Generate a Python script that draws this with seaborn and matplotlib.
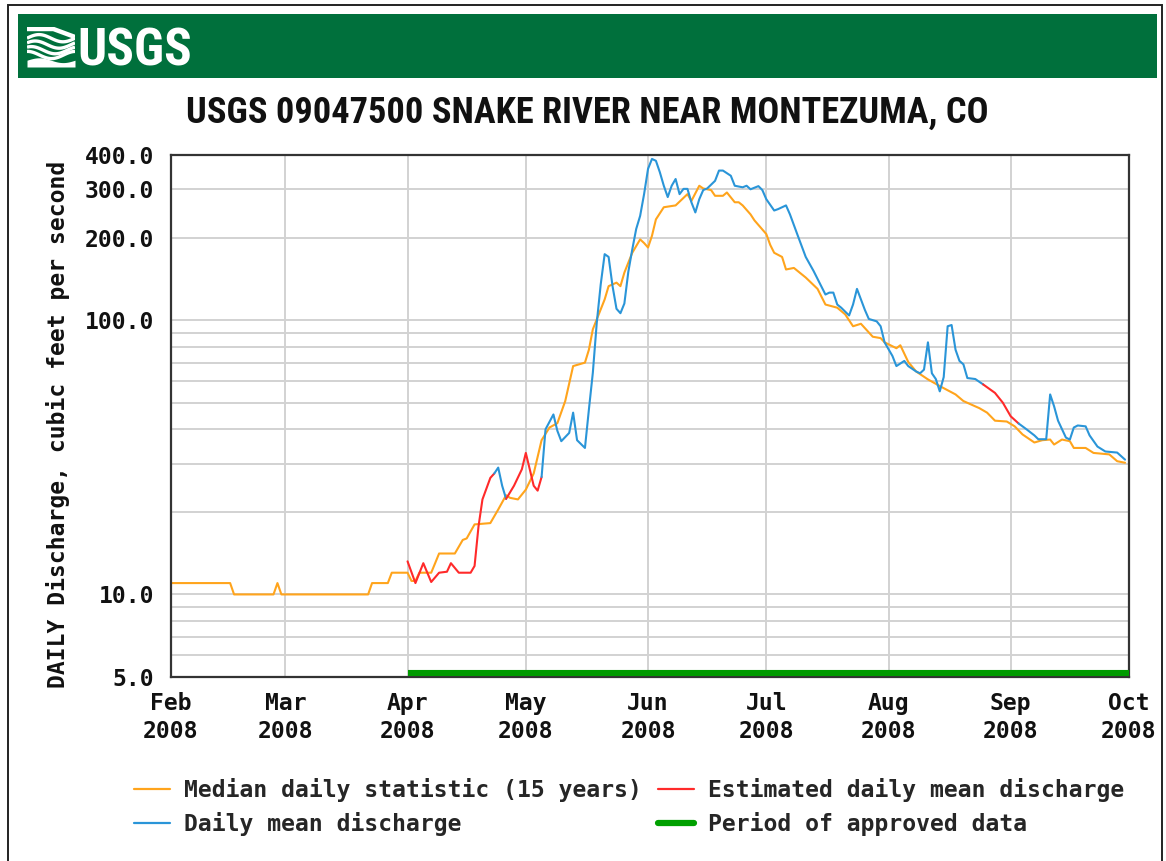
import numpy as np
import pandas as pd
import matplotlib
matplotlib.use("Agg")
import matplotlib.pyplot as plt
from matplotlib.lines import Line2D
from matplotlib.patches import Rectangle
from matplotlib.ticker import FixedLocator, NullFormatter
import seaborn as sns

# ---------------- data ----------------
TITLE = "USGS 09047500 SNAKE RIVER NEAR MONTEZUMA, CO"
Y_LABEL = "DAILY Discharge, cubic feet per second"

median_dates = [
    "02-01", "02-16", "02-17", "02-27", "02-28", "02-29", "03-22", "03-23", "03-27", "03-28",
    "04-01", "04-02", "04-03", "04-04", "04-07", "04-08", "04-09", "04-13", "04-15", "04-16",
    "04-18", "04-22", "04-24", "04-26", "04-27", "04-29", "05-01", "05-03", "05-05", "05-07",
    "05-09", "05-11", "05-13", "05-16", "05-17", "05-18", "05-21", "05-22", "05-24", "05-25",
    "05-26", "05-27", "05-28", "05-30", "05-31", "06-01", "06-02", "06-03", "06-05", "06-08",
    "06-11", "06-12", "06-14", "06-15", "06-17", "06-18", "06-20", "06-21", "06-23", "06-24",
    "06-25", "06-27", "06-28", "07-01", "07-02", "07-03", "07-05", "07-06", "07-08", "07-11",
    "07-14", "07-16", "07-19", "07-21", "07-23", "07-25", "07-28", "07-30", "07-31", "08-03",
    "08-04", "08-06", "08-08", "08-11", "08-14", "08-18", "08-20", "08-23", "08-24", "08-26",
    "08-28", "08-31", "09-02", "09-04", "09-07", "09-09", "09-11", "09-12", "09-14", "09-16",
    "09-17", "09-20", "09-22", "09-26", "09-28", "09-30",
]
median_values = [
    11, 11, 10, 10, 11, 10, 10, 11, 11, 12,
    12, 11.2, 11.2, 12, 12, 13, 14.1, 14.1, 15.8, 16,
    18, 18.2, 20.4, 23, 22.5, 22.2, 24.1, 27.6, 36.5, 40.6,
    42.1, 50.7, 68, 70, 78, 92.6, 119, 133, 137, 133,
    149, 162, 176, 197, 191, 184, 203, 233, 258, 262,
    288, 272, 309, 302, 298, 284, 284, 292, 269, 269,
    262, 243, 231, 206, 188, 176, 170, 153, 155, 143,
    130, 114, 111, 105, 95, 97, 87, 86, 83, 79,
    81, 70.4, 65, 60.8, 57.5, 53.6, 50.7, 48.5, 47.8, 46,
    43, 42.7, 41, 38.3, 35.8, 36.5, 36.7, 35.2, 36.7, 36.2,
    34.2, 34.2, 32.8, 32.4, 30.6, 30.2,
]

flow_dates = [
    "04-01", "04-03", "04-05", "04-07", "04-09", "04-11", "04-12", "04-14", "04-17", "04-18",
    "04-19", "04-20", "04-22", "04-23", "04-24", "04-25", "04-26", "04-28", "04-30", "05-01",
    "05-02", "05-03", "05-04", "05-05", "05-06", "05-08", "05-09", "05-10", "05-12", "05-13",
    "05-14", "05-16", "05-17", "05-18", "05-19", "05-20", "05-21", "05-22", "05-23", "05-24",
    "05-25", "05-26", "05-27", "05-28", "05-29", "05-30", "05-31", "06-01", "06-02", "06-03",
    "06-04", "06-05", "06-06", "06-07", "06-08", "06-09", "06-10", "06-11", "06-12", "06-13",
    "06-14", "06-15", "06-16", "06-18", "06-19", "06-20", "06-22", "06-23", "06-25", "06-26",
    "06-27", "06-29", "06-30", "07-01", "07-03", "07-04", "07-06", "07-07", "07-09", "07-11",
    "07-13", "07-16", "07-17", "07-18", "07-19", "07-20", "07-22", "07-23", "07-24", "07-26",
    "07-27", "07-29", "07-30", "07-31", "08-02", "08-03", "08-05", "08-06", "08-08", "08-09",
    "08-10", "08-11", "08-12", "08-13", "08-14", "08-15", "08-16", "08-17", "08-18", "08-19",
    "08-20", "08-21", "08-23", "08-25", "08-28", "08-30", "09-01", "09-03", "09-05", "09-07",
    "09-08", "09-10", "09-11", "09-12", "09-13", "09-15", "09-16", "09-17", "09-18", "09-20",
    "09-21", "09-23", "09-25", "09-28", "09-30",
]
flow_values = [
    13.2, 11.0, 13.0, 11.1, 12.0, 12.1, 13.0, 12.0, 12.0, 12.7,
    17.7, 22.2, 26.6, 27.6, 29.0, 24.9, 22.3, 24.9, 28.6, 32.8,
    28.6, 24.9, 23.9, 26.8, 40.0, 45.3, 39.5, 36.2, 38.8, 46.0,
    36.5, 34.2, 47.2, 64.3, 98, 135, 174, 170, 133, 110,
    106, 115, 150, 181, 215, 240, 288, 356, 387, 381,
    346, 309, 281, 309, 327, 288, 301, 301, 269, 247,
    276, 298, 302, 322, 351, 351, 336, 309, 305, 309,
    300, 308, 298, 276, 251, 254, 262, 243, 203, 170,
    151, 124, 126, 126, 114, 111, 104, 114, 130, 109,
    101, 99, 95, 83, 74, 68, 71, 68, 65, 64,
    66, 83, 64, 61, 55, 62, 95, 96, 78, 71,
    69, 61.5, 61, 58.3, 54.3, 50, 44.6, 42, 40, 38,
    36.8, 36.8, 53.6, 48.5, 43, 37.3, 36.7, 40.6, 41.3, 41,
    38, 34.6, 33.2, 32.9, 31,
]
# e = estimated, a = approved
flow_status = (
    ["e"] * 13 + ["a"] * 3 + ["e"] * 7 + ["a"] * 90 + ["e"] * 4 + ["a"] * 18
)

approved_period = ["2008-04-01", "2008-10-01"]
x_limits = ["2008-02-01", "2008-10-01"]
month_ticks = ["2008-02-01", "2008-03-01", "2008-04-01", "2008-05-01", "2008-06-01",
               "2008-07-01", "2008-08-01", "2008-09-01", "2008-10-01"]
y_major = [5, 10, 100, 200, 300, 400]
y_minor = [6, 7, 8, 9, 20, 30, 40, 50, 60, 70, 80, 90]
legend_labels = ["Median daily statistic (15 years)", "Daily mean discharge",
                 "Estimated daily mean discharge", "Period of approved data"]

# ---------------- style ----------------
C_MED = "#FFA41C"
C_FLOW = "#2A95D8"
C_EST = "#FF2A2A"
C_APPR = "#00A000"
C_BANNER = "#00703C"
C_GRID = "#D2D2D2"

sns.set_theme(style="white")
MONO = ["DejaVu Sans Mono", "DejaVu Sans"]
NARROW = ["Roboto Condensed", "IBM Plex Sans Condensed", "Open Sans Condensed", "DejaVu Sans"]
plt.rcParams["font.family"] = MONO
FS = 16.6

W, H = 1166, 861
fig = plt.figure(figsize=(W / 100, H / 100), dpi=100)
fig.patch.set_facecolor("white")

L, R, T, B = 171, 1129, 155, 677
ax = fig.add_axes([L / W, 1 - B / H, (R - L) / W, (B - T) / H])

med = pd.DataFrame({"date": pd.to_datetime(["2008-" + d for d in median_dates]),
                    "cfs": median_values})
flow = pd.DataFrame({"date": pd.to_datetime(["2008-" + d for d in flow_dates]),
                     "cfs": flow_values, "status": flow_status})

sns.lineplot(data=med, x="date", y="cfs", ax=ax, color=C_MED, linewidth=1.5,
             estimator=None, sort=False, legend=False)

# split discharge into runs of equal status, each run joined to the next point
n = len(flow)
start = 0
for i in range(1, n + 1):
    if i == n or flow.status.iloc[i] != flow.status.iloc[start]:
        seg = flow.iloc[start:min(i + 1, n)]
        col = C_EST if flow.status.iloc[start] == "e" else C_FLOW
        sns.lineplot(data=seg, x="date", y="cfs", ax=ax, color=col, linewidth=1.5,
                     estimator=None, sort=False, legend=False)
        start = i

ax.set_yscale("log")
ax.set_xlim(pd.to_datetime(x_limits[0]), pd.to_datetime(x_limits[1]))
ax.set_ylim(y_major[0], y_major[-1])
ax.set_yticks(y_major, labels=[f"{v:.1f}" for v in y_major])
ax.yaxis.set_minor_locator(FixedLocator(y_minor))
ax.yaxis.set_minor_formatter(NullFormatter())
ticks = pd.to_datetime(month_ticks)
ax.set_xticks(ticks, labels=[t.strftime("%b\n%Y") for t in ticks])

ax.grid(which="major", axis="both", color=C_GRID, linewidth=1.4)
ax.grid(which="minor", axis="y", color=C_GRID, linewidth=1.4)
ax.set_axisbelow(True)
ax.tick_params(which="both", length=0)
ax.tick_params(axis="y", pad=12)
ax.tick_params(axis="x", pad=11)
for lab in ax.get_xticklabels() + ax.get_yticklabels():
    lab.set_fontfamily(MONO)
    lab.set_fontweight("bold")
    lab.set_fontsize(FS)
    lab.set_color("#111111")
for lab in ax.get_xticklabels():
    lab.set_linespacing(1.25)

for sp in ax.spines.values():
    sp.set_color("#333333")
    sp.set_linewidth(1.6)

ax.set_xlabel("")
ax.set_ylabel(Y_LABEL, fontsize=FS, fontweight="bold", family=MONO, color="#111111")
ax.yaxis.set_label_coords(-0.105, 0.483)

# approved period bar
ax.plot(pd.to_datetime(approved_period), [0.0075, 0.0075], color="#009A00",
        linewidth=4.4, solid_capstyle="butt", transform=ax.get_xaxis_transform(),
        clip_on=False, zorder=5)

# legend
handles = [
    Line2D([], [], color=C_MED, lw=1.6),
    Line2D([], [], color=C_FLOW, lw=1.6),
    Line2D([], [], color=C_EST, lw=1.6),
    Line2D([], [], color=C_APPR, lw=4.5),
]
fig.legend(handles, legend_labels, ncol=2, loc="upper left",
           bbox_to_anchor=(134 / W, 1 - 778 / H), frameon=False, borderpad=0,
           borderaxespad=0, handlelength=1.55, handletextpad=0.6, columnspacing=0.72,
           labelspacing=0.44, prop={"family": MONO, "weight": "bold", "size": FS})

# title
fig.text(587 / W, 1 - 123 / H, TITLE, ha="center", va="baseline", fontsize=26.2,
         fontweight="bold", family=NARROW, color="#111111")

# banner (behind everything)
fig.patches.append(Rectangle((18 / W, 1 - 78 / H), (1157 - 18) / W, 64 / H,
                             transform=fig.transFigure, facecolor=C_BANNER,
                             edgecolor="none", zorder=-5))
fig.text(77 / W, 1 - 66 / H, "USGS", ha="left", va="baseline", fontsize=37,
         fontweight="bold", family=NARROW, color="white")
# wave emblem
emb = fig.add_axes([27 / W, 1 - 67 / H, 48 / W, 40 / H], zorder=2)
emb.set_xlim(0, 1)
emb.set_ylim(0, 1)
emb.axis("off")
tt = np.linspace(0, 1, 60)
emb.plot([0, 0.55, 1], [0.95, 0.95, 0.75], color="white", lw=3.2, solid_capstyle="butt")
for k, off in enumerate([0.72, 0.56, 0.42, 0.3]):
    emb.plot(tt, off + 0.09 * np.sin(2 * np.pi * (tt * 1.0 + 0.08 * k)), color="white",
             lw=2.4, solid_capstyle="butt")
emb.fill_between(tt, 0, 0.17 + 0.06 * np.sin(2 * np.pi * tt), color="white", lw=0)

# outer frame
fig.patches.append(Rectangle((8 / W, -0.01), (1162 - 8) / W, 1 - 5 / H + 0.01,
                             transform=fig.transFigure, facecolor="none",
                             edgecolor="#222222", linewidth=1.4, zorder=-4))

fig.savefig("out.png", dpi=100, facecolor="white")
